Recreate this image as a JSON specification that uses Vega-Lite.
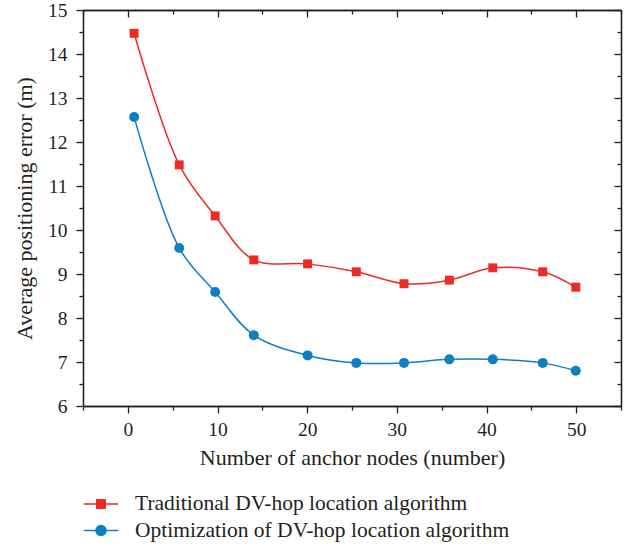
{
  "$schema": "https://vega.github.io/schema/vega-lite/v6.json",
  "width": 538,
  "height": 396,
  "autosize": {"type": "none"},
  "padding": {"left": 83, "top": 10, "right": 9, "bottom": 141},
  "background": "white",
  "config": {
    "view": {"stroke": null},
    "axis": {
      "grid": false,
      "domainColor": "#231f20",
      "tickColor": "#231f20",
      "domainWidth": 1.3,
      "tickWidth": 1.3,
      "labelFont": "Liberation Serif",
      "labelFontSize": 19.5,
      "labelColor": "#231f20",
      "titleFont": "Liberation Serif",
      "titleFontSize": 22,
      "titleFontWeight": "normal",
      "titleColor": "#231f20"
    }
  },
  "data": {
    "values": [
      {"n": 0.7, "err": 14.47, "s": "Traditional DV-hop location algorithm"},
      {"n": 5.73, "err": 11.48, "s": "Traditional DV-hop location algorithm"},
      {"n": 9.74, "err": 10.32, "s": "Traditional DV-hop location algorithm"},
      {"n": 14.05, "err": 9.32, "s": "Traditional DV-hop location algorithm"},
      {"n": 20.05, "err": 9.23, "s": "Traditional DV-hop location algorithm"},
      {"n": 25.48, "err": 9.05, "s": "Traditional DV-hop location algorithm"},
      {"n": 30.8, "err": 8.78, "s": "Traditional DV-hop location algorithm"},
      {"n": 35.86, "err": 8.86, "s": "Traditional DV-hop location algorithm"},
      {"n": 40.7, "err": 9.14, "s": "Traditional DV-hop location algorithm"},
      {"n": 46.27, "err": 9.05, "s": "Traditional DV-hop location algorithm"},
      {"n": 49.96, "err": 8.7, "s": "Traditional DV-hop location algorithm"},
      {"n": 0.7, "err": 12.57, "s": "Optimization of DV-hop location algorithm"},
      {"n": 5.73, "err": 9.59, "s": "Optimization of DV-hop location algorithm"},
      {"n": 9.74, "err": 8.59, "s": "Optimization of DV-hop location algorithm"},
      {"n": 14.05, "err": 7.61, "s": "Optimization of DV-hop location algorithm"},
      {"n": 20.05, "err": 7.15, "s": "Optimization of DV-hop location algorithm"},
      {"n": 25.48, "err": 6.98, "s": "Optimization of DV-hop location algorithm"},
      {"n": 30.8, "err": 6.98, "s": "Optimization of DV-hop location algorithm"},
      {"n": 35.86, "err": 7.06, "s": "Optimization of DV-hop location algorithm"},
      {"n": 40.7, "err": 7.06, "s": "Optimization of DV-hop location algorithm"},
      {"n": 46.27, "err": 6.98, "s": "Optimization of DV-hop location algorithm"},
      {"n": 49.96, "err": 6.8, "s": "Optimization of DV-hop location algorithm"}
    ]
  },
  "resolve": {"axis": {"x": "independent", "y": "independent"}},
  "layer": [
    {
      "mark": {"type": "line", "interpolate": "catmull-rom", "strokeWidth": 1.5},
      "encoding": {
        "x": {"field": "n", "type": "quantitative", "scale": {"domain": [-5, 55], "nice": false, "zero": false},
          "axis": {"orient": "bottom", "values": [0, 10, 20, 30, 40, 50], "tickSize": 7, "labelPadding": 7, "title": "Number of anchor nodes (number)", "titlePadding": 9}},
        "y": {"field": "err", "type": "quantitative", "scale": {"domain": [6, 15], "nice": false, "zero": false},
          "axis": {"orient": "left", "values": [6, 7, 8, 9, 10, 11, 12, 13, 14, 15], "tickSize": 7, "labelPadding": 9, "title": "Average positioning error (m)", "titlePadding": 11}},
        "color": {"field": "s", "type": "nominal",
          "scale": {"domain": ["Traditional DV-hop location algorithm", "Optimization of DV-hop location algorithm"], "range": ["#EC2B24", "#0E80C0"]},
          "legend": {"orient": "none", "legendX": 7, "legendY": 483, "title": null, "labelFont": "Liberation Serif", "labelFontSize": 21.5, "labelColor": "#231f20", "labelLimit": 0, "symbolSize": 400, "labelOffset": 23, "rowPadding": 4.5, "symbolStrokeWidth": 1.5,
            "encode": {"symbols": {"update": {
              "shape": {"signal": "datum.value === 'Traditional DV-hop location algorithm' ? 'M-1.73,0H1.73M-0.42,-0.42H0.42V0.42H-0.42Z' : 'M-1.73,0H1.73M0.5,0A0.5,0.5,0,1,1,-0.5,0A0.5,0.5,0,1,1,0.5,0Z'"},
              "stroke": {"scale": "color", "field": "value"},
              "fill": {"scale": "color", "field": "value"},
              "opacity": {"value": 1},
              "fillOpacity": {"value": 1},
              "strokeOpacity": {"value": 1},
              "strokeWidth": {"value": 1.5}
            }}}}
        }
      }
    },
    {
      "transform": [{"filter": "datum.s === 'Traditional DV-hop location algorithm'"}],
      "mark": {"type": "point", "filled": true, "opacity": 1, "shape": "square", "size": 80},
      "encoding": {
        "x": {"field": "n", "type": "quantitative",
          "axis": {"orient": "bottom", "values": [-5, 5, 15, 25, 35, 45, 55], "tickSize": 4, "labels": false, "title": null}},
        "y": {"field": "err", "type": "quantitative",
          "axis": {"orient": "left", "values": [6.5, 7.5, 8.5, 9.5, 10.5, 11.5, 12.5, 13.5, 14.5], "tickSize": 4, "labels": false, "title": null}},
        "color": {"field": "s", "type": "nominal"}
      }
    },
    {
      "transform": [{"filter": "datum.s === 'Optimization of DV-hop location algorithm'"}],
      "mark": {"type": "point", "filled": true, "opacity": 1, "shape": "circle", "size": 100},
      "encoding": {
        "x": {"field": "n", "type": "quantitative",
          "axis": {"orient": "top", "values": [0, 10, 20, 30, 40, 50], "tickSize": -7, "labels": false, "title": null}},
        "y": {"field": "err", "type": "quantitative",
          "axis": {"orient": "right", "values": [6, 7, 8, 9, 10, 11, 12, 13, 14, 15], "tickSize": -7, "labels": false, "title": null}},
        "color": {"field": "s", "type": "nominal"}
      }
    },
    {
      "mark": {"type": "point", "opacity": 0},
      "encoding": {
        "x": {"field": "n", "type": "quantitative",
          "axis": {"orient": "top", "values": [-5, 5, 15, 25, 35, 45, 55], "tickSize": -4, "labels": false, "title": null}},
        "y": {"field": "err", "type": "quantitative",
          "axis": {"orient": "right", "values": [6.5, 7.5, 8.5, 9.5, 10.5, 11.5, 12.5, 13.5, 14.5], "tickSize": -4, "labels": false, "title": null}}
      }
    }
  ]
}
